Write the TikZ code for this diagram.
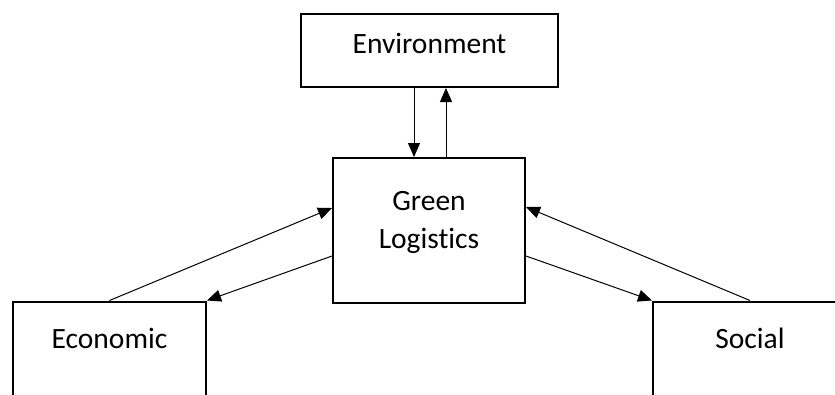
\documentclass[tikz,border=0pt]{standalone}
\usepackage{fontspec}
\setmainfont{Carlito}[Ligatures=NoCommon]
\usetikzlibrary{arrows.meta}

\tikzset{
  box/.style={draw=black, line width=2pt, inner sep=0pt, font=\fontsize{29.5}{38}\selectfont},
  link/.style={line width=1pt, -{Triangle[length=14pt,width=12pt]}}
}

\begin{document}
\begin{tikzpicture}[x=1pt,y=-1pt]
\useasboundingbox (0,0) rectangle (835,394);
\clip (0,0) rectangle (835,394);
%Environment
\node[box, minimum width=257pt, minimum height=73pt, text height=39pt, text depth=34pt] (env) at (429.5,50.5) {Environment};
%Green logistics
\node[box, align=center, minimum width=192pt, minimum height=145pt, text height=90pt, text depth=55pt] (green) at (429,230.5) {Green\\Logistics};
%Economic and social
\node[box, minimum width=193pt, minimum height=120pt, text height=47pt, text depth=73pt] (econ) at (109.5,361.5) {Economic};
\node[box, minimum width=194pt, minimum height=120pt, text height=47pt, text depth=73pt] (social) at (750,361.5) {Social};
%Links
\draw[link] ([xshift=-15.5pt]env.south) -- ([xshift=-15.5pt]env.south |- green.north);
\draw[link] ([xshift=16.5pt]env.south |- green.north) -- ([xshift=16.5pt]env.south);
\draw[link] (econ.north) -- ([yshift=22.5pt]green.west);
\draw[link] ([yshift=-25.5pt]green.west) -- (econ.north east);
\draw[link] (social.north) -- ([yshift=23.5pt]green.east);
\draw[link] ([yshift=-25.5pt]green.east) -- (social.north west);
\end{tikzpicture}
\end{document}
